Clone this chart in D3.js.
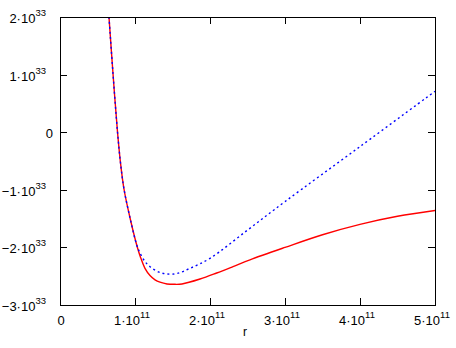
<!DOCTYPE html>
<html>
<head>
<meta charset="utf-8">
<script src="https://d3js.org/d3.v7.min.js"></script>
<style>
  html, body { margin: 0; padding: 0; background: #fff; }
  svg text { font-family: "Liberation Sans", Arial, sans-serif; fill: #000; }
</style>
</head>
<body>
<div id="chart"></div>
<script>
// r values (m) and the two curves
const rRed = [0.653e11, 0.707e11, 0.767e11, 0.807e11, 0.853e11, 0.94e11, 1.036e11, 1.071e11, 1.133e11, 1.2e11,
  1.267e11, 1.333e11, 1.427e11, 1.533e11, 1.627e11, 1.867e11, 2.089e11, 2.307e11, 2.533e11, 3.0e11, 3.5e11,
  4.0e11, 4.5e11, 5.0e11];
const redVals = [2.0e33, 1.01e33, 0, -0.535e33, -0.986e33, -1.524e33, -2.019e33, -2.161e33, -2.363e33, -2.488e33,
  -2.563e33, -2.604e33, -2.635e33, -2.641e33, -2.635e33, -2.549e33, -2.444e33, -2.333e33, -2.215e33, -2.0e33, -1.78e33,
  -1.6e33, -1.46e33, -1.36e33];

const rBlue = [0.653e11, 0.707e11, 0.767e11, 0.807e11, 0.853e11, 0.94e11, 1.023e11, 1.067e11, 1.133e11, 1.2e11,
  1.311e11, 1.427e11, 1.56e11, 1.733e11, 2.0e11, 2.5e11, 3.0e11, 4.0e11, 5.0e11];
const blueVals = [2.0e33, 1.01e33, 0, -0.535e33, -0.986e33, -1.524e33, -1.958e33, -2.097e33, -2.245e33, -2.335e33,
  -2.424e33, -2.462e33, -2.453e33, -2.363e33, -2.19e33, -1.70e33, -1.205e33, -0.25e33, 0.71e33];

const xTicks = [0, 1e11, 2e11, 3e11, 4e11, 5e11];
const xTickLabels = [["0", ""], ["1·10", "11"], ["2·10", "11"], ["3·10", "11"], ["4·10", "11"], ["5·10", "11"]];
const yTicks = [2e33, 1e33, 0, -1e33, -2e33, -3e33];
const yTickLabels = [["2·10", "33"], ["1·10", "33"], ["0", ""], ["−1·10", "33"], ["−2·10", "33"], ["−3·10", "33"]];

const width = 456, height = 348;
const plotLeft = 60, plotRight = 435, plotTop = 17, plotBottom = 305;
const tickLen = 7;

const svg = d3.select("#chart").append("svg")
  .attr("width", width)
  .attr("height", height);

const x = d3.scaleLinear().domain([0, 5e11]).range([plotLeft, plotRight]);
const y = d3.scaleLinear().domain([-3e33, 2e33]).range([plotBottom, plotTop]);

svg.append("clipPath").attr("id", "clip")
  .append("rect")
  .attr("x", plotLeft).attr("y", plotTop)
  .attr("width", plotRight - plotLeft).attr("height", plotBottom - plotTop);

const line = d3.line()
  .x(d => x(d[0]))
  .y(d => y(d[1]))
  .curve(d3.curveCatmullRom.alpha(0.5));

const plot = svg.append("g").attr("clip-path", "url(#clip)");

plot.append("path")
  .datum(d3.zip(rRed, redVals))
  .attr("d", line)
  .attr("fill", "none")
  .attr("stroke", "#ff0000")
  .attr("stroke-width", 1.4);

plot.append("path")
  .datum(d3.zip(rBlue, blueVals))
  .attr("d", line)
  .attr("fill", "none")
  .attr("stroke", "#0000ff")
  .attr("stroke-width", 1.4)
  .attr("stroke-dasharray", "2,3");

// frame
const frame = svg.append("g").attr("shape-rendering", "crispEdges");
frame.append("rect")
  .attr("x", plotLeft + 0.5).attr("y", plotTop + 0.5)
  .attr("width", plotRight - plotLeft).attr("height", plotBottom - plotTop)
  .attr("fill", "none").attr("stroke", "#000");

// x ticks on bottom and top, pointing inward
xTicks.forEach(t => {
  const px = Math.round(x(t)) + 0.5;
  frame.append("line").attr("x1", px).attr("x2", px)
    .attr("y1", plotBottom).attr("y2", plotBottom - tickLen).attr("stroke", "#000");
  frame.append("line").attr("x1", px).attr("x2", px)
    .attr("y1", plotTop).attr("y2", plotTop + tickLen).attr("stroke", "#000");
});
// y ticks on left and right
yTicks.forEach(t => {
  const py = Math.round(y(t)) + 0.5;
  frame.append("line").attr("x1", plotLeft).attr("x2", plotLeft + tickLen)
    .attr("y1", py).attr("y2", py).attr("stroke", "#000");
  frame.append("line").attr("x1", plotRight).attr("x2", plotRight - tickLen)
    .attr("y1", py).attr("y2", py).attr("stroke", "#000");
});

// x tick labels
xTicks.forEach((t, i) => {
  const lab = xTickLabels[i];
  const txt = svg.append("text")
    .attr("x", x(t) + (lab[1] ? -3 : 1))
    .attr("y", 325)
    .attr("text-anchor", "middle")
    .attr("font-size", 13);
  txt.append("tspan").text(lab[0]);
  if (lab[1]) txt.append("tspan").attr("dy", -7).attr("font-size", 9.5).text(lab[1]);
});

// y tick labels
yTicks.forEach((t, i) => {
  const lab = yTickLabels[i];
  const txt = svg.append("text")
    .attr("x", lab[1] ? 46 : 53)
    .attr("y", y(t) + 6)
    .attr("text-anchor", "end")
    .attr("font-size", 13);
  txt.append("tspan").text(lab[0]);
  if (lab[1]) txt.append("tspan").attr("dy", -7).attr("font-size", 9.5).text(lab[1]);
});

svg.append("text")
  .attr("x", 245).attr("y", 336)
  .attr("text-anchor", "middle")
  .attr("font-size", 12)
  .text("r");
</script>
</body>
</html>
